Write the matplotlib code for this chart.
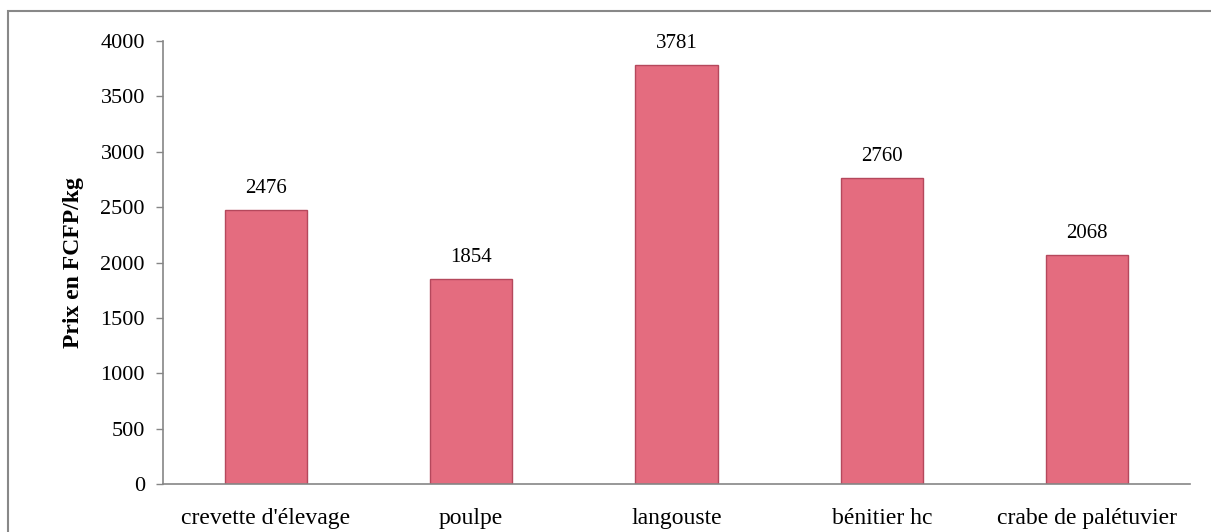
import numpy as np
import matplotlib.pyplot as plt
from matplotlib.patches import Rectangle

plt.rcParams['font.family'] = ['Liberation Serif', 'DejaVu Serif']

# données
especes = ["crevette d'élevage", 'poulpe', 'langouste', 'bénitier hc', 'crabe de palétuvier']
prix = [2476, 1854, 3781, 2760, 2068]
yticks = [0, 500, 1000, 1500, 2000, 2500, 3000, 3500, 4000]

fig = plt.figure(figsize=(12.11, 5.32), dpi=100)
ax = fig.add_axes([0.1346, 0.0902, 0.9827 - 0.1346, 0.9229 - 0.0902])

x = np.arange(len(especes))
barres = ax.bar(x, prix, width=0.4, color='#E46C7F', edgecolor='#B5485C', linewidth=1)
for xi, v in zip(x, prix):
    ax.text(xi, v + 110, str(v), ha='center', va='bottom', fontsize=15)

ax.set_xlim(-0.5, len(especes) - 0.5)
ax.set_ylim(0, 4000)
ax.set_yticks(yticks)
ax.set_xticks(x)
ax.set_xticklabels(especes, fontsize=17)
ax.tick_params(axis='y', labelsize=16, length=5, width=1, color='#868686', pad=8)
ax.tick_params(axis='x', length=0, pad=17)
for s in ['top', 'right']:
    ax.spines[s].set_visible(False)
for s in ['left', 'bottom']:
    ax.spines[s].set_color('#868686')
    ax.spines[s].set_linewidth(1.2)
ax.set_ylabel('Prix en FCFP/kg', fontsize=17, fontweight='bold', labelpad=12)

# cadre du graphique
fig.patches.append(Rectangle((8 / 1211, -0.1), 1.2, 1 - 11 / 532 + 0.1, transform=fig.transFigure,
                             fill=False, edgecolor='#888888', linewidth=1.5))

fig.savefig('out.png', dpi=100)
plt.close()
